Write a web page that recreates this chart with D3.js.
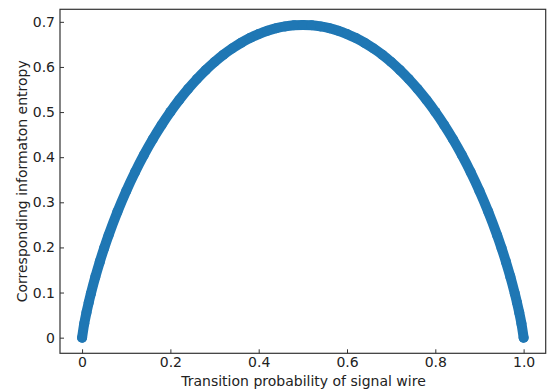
<!DOCTYPE html>
<html><head><meta charset="utf-8">
<script src="https://cdn.jsdelivr.net/npm/d3@7"></script>
<style>body{margin:0;background:#fff}svg{display:block}</style>
</head><body>
<script>
const probability = [0,0.005,0.01,0.015,0.02,0.03,0.04,0.05,0.06,0.08,0.10,0.12,0.14,0.16,0.18,0.20,0.22,0.24,0.26,0.28,0.30,0.32,0.34,0.36,0.38,0.40,0.42,0.44,0.46,0.48,0.50,
  0.52,0.54,0.56,0.58,0.60,0.62,0.64,0.66,0.68,0.70,0.72,0.74,0.76,0.78,0.80,0.82,0.84,0.86,0.88,0.90,0.92,0.94,0.95,0.96,0.97,0.98,0.985,0.99,0.995,1.0];
const entropy = [0,0.0315,0.0560,0.0779,0.0980,0.1347,0.1679,0.1985,0.2270,0.2788,0.3251,0.3669,0.4050,0.4397,0.4714,0.5004,0.5269,0.5511,0.5731,0.5930,0.6109,0.6269,0.6410,0.6534,0.6641,0.6730,0.6803,0.6859,0.6899,0.6923,0.6931,
  0.6923,0.6899,0.6859,0.6803,0.6730,0.6641,0.6534,0.6410,0.6269,0.6109,0.5930,0.5731,0.5511,0.5269,0.5004,0.4714,0.4397,0.4050,0.3669,0.3251,0.2788,0.2270,0.1985,0.1679,0.1347,0.0980,0.0779,0.0560,0.0315,0];
const xTicks = [0,0.2,0.4,0.6,0.8,1.0];
const xTickLabels = ["0","0.2","0.4","0.6","0.8","1.0"];
const yTicks = [0,0.1,0.2,0.3,0.4,0.5,0.6,0.7];
const yTickLabels = ["0","0.1","0.2","0.3","0.4","0.5","0.6","0.7"];
const xTitle = "Transition probability of signal wire";
const yTitle = "Corresponding informaton entropy";

const W=547,H=390;
const L=60,R=545.7,T=9.3,B=353.3;
const svg=d3.select("body").append("svg").attr("width",W).attr("height",H);
const x=d3.scaleLinear().domain([-0.05,1.05]).range([L,R]);
const y=d3.scaleLinear().domain([-0.03466,0.72777]).range([B,T]);
const font="DejaVu Sans, sans-serif";
const blue="#1f77b4";

const data=probability.map((p,i)=>({p,h:entropy[i]}));
const g=svg.append("g");
g.append("path").datum(data)
 .attr("d",d3.line().x(d=>x(d.p)).y(d=>y(d.h)).curve(d3.curveCatmullRom))
 .attr("fill","none").attr("stroke",blue).attr("stroke-width",10).attr("stroke-linecap","round").attr("stroke-linejoin","round");
g.selectAll("circle").data(data).enter().append("circle")
 .attr("cx",d=>x(d.p)).attr("cy",d=>y(d.h)).attr("r",5).attr("fill",blue);

const ax=svg.append("g").attr("transform",`translate(0,${B})`)
 .call(d3.axisBottom(x).tickValues(xTicks).tickFormat((d,i)=>xTickLabels[i]).tickSizeInner(-4).tickSizeOuter(0).tickPadding(4));
const ay=svg.append("g").attr("transform",`translate(${L},0)`)
 .call(d3.axisLeft(y).tickValues(yTicks).tickFormat((d,i)=>yTickLabels[i]).tickSizeInner(-4).tickSizeOuter(0).tickPadding(5));
[ax,ay].forEach(a=>{
  a.select(".domain").remove();
  a.selectAll("line").attr("stroke","#333").attr("stroke-width",1);
  a.selectAll("text").attr("font-family",font).attr("font-size",14).attr("fill","#222");
});
svg.append("rect").attr("x",L).attr("y",T).attr("width",R-L).attr("height",B-T)
 .attr("fill","none").attr("stroke","#333").attr("stroke-width",1.2);

svg.append("text").attr("x",303.5).attr("y",386).attr("text-anchor","middle")
 .attr("font-family",font).attr("font-size",14).attr("fill","#222").text(xTitle);
svg.append("text").attr("transform",`translate(27,${(T+B)/2}) rotate(-90)`).attr("text-anchor","middle")
 .attr("font-family",font).attr("font-size",14).attr("fill","#222").text(yTitle);
</script>
</body></html>
